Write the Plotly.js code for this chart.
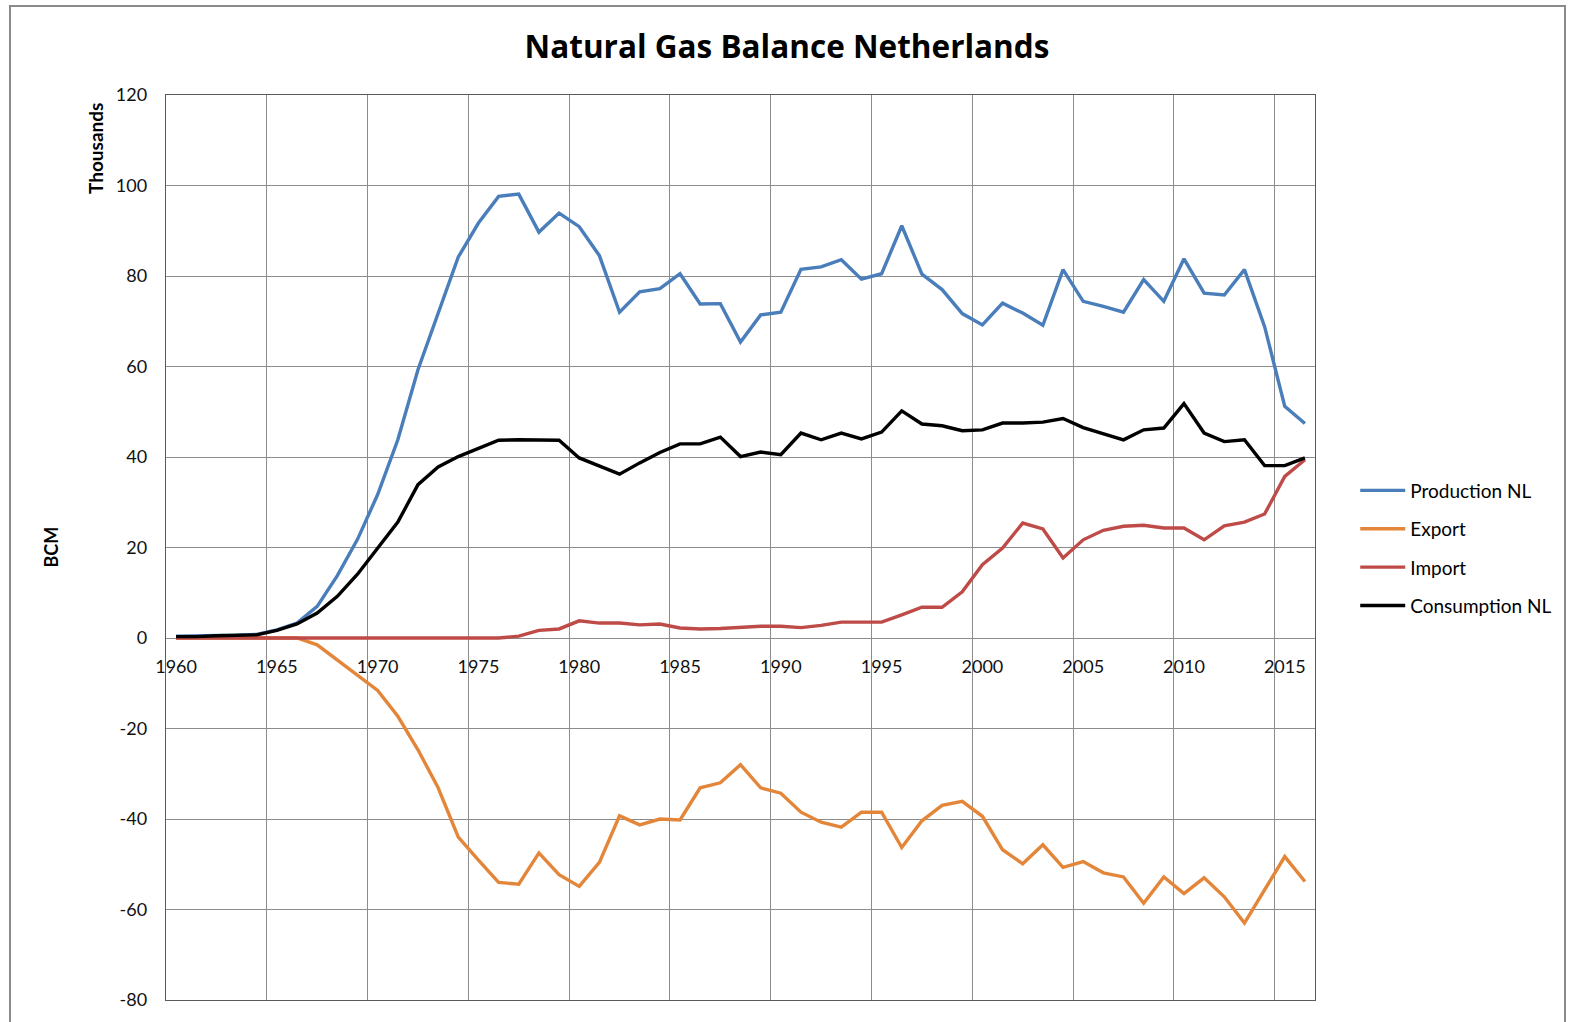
<!DOCTYPE html>
<html>
<head>
<meta charset="utf-8">
<script src="https://cdn.plot.ly/plotly-3.0.1.min.js"></script>
<style>
  html, body { margin: 0; padding: 0; background: #fff; overflow: hidden; }
  #frame { position: absolute; left: 9px; top: 5px; width: 1557px; height: 1040px; border: 2px solid #8a8a8a; box-sizing: border-box; pointer-events: none; z-index: 5; }
  #chart { position: absolute; left: 0; top: 0; width: 1573px; height: 1022px; }
</style>
</head>
<body>
<div id="chart"></div>
<div id="frame"></div>
<script>
const years = [];
for (let y = 1960; y <= 2016; y++) years.push(y);

const production = [0.4, 0.45, 0.55, 0.6, 0.8, 1.8, 3.3, 7.0, 13.8, 21.8,
  31.7, 43.8, 59.3, 71.8, 84.2, 91.7, 97.6, 98.1, 89.7, 93.9,
  90.9, 84.5, 72.0, 76.5, 77.2, 80.5, 73.8, 73.9, 65.4, 71.4,
  72.0, 81.5, 82.0, 83.6, 79.3, 80.5, 91.1, 80.4, 77.0, 71.7,
  69.2, 74.0, 71.8, 69.1, 81.4, 74.4, 73.3, 72.0, 79.2, 74.4,
  83.8, 76.2, 75.8, 81.4, 68.8, 51.2, 47.4];

const exportNL = [0, 0, 0, 0, 0, 0, 0, -1.5, -4.8, -8.1,
  -11.6, -17.3, -24.7, -33.1, -44.0, -49.1, -54.0, -54.4, -47.5, -52.3,
  -54.9, -49.6, -39.3, -41.3, -40.0, -40.2, -33.1, -32.0, -28.0, -33.1,
  -34.3, -38.5, -40.7, -41.8, -38.5, -38.5, -46.3, -40.4, -37.0, -36.1,
  -39.4, -46.8, -49.9, -45.7, -50.7, -49.4, -51.9, -52.8, -58.6, -52.8,
  -56.5, -53.0, -57.2, -63.0, -55.5, -48.3, -53.8];

const importNL = [0, 0, 0, 0, 0, 0, 0, 0, 0, 0,
  0, 0, 0, 0, 0, 0, 0, 0.4, 1.7, 2.0,
  3.8, 3.3, 3.3, 2.9, 3.1, 2.2, 2.0, 2.1, 2.3, 2.6,
  2.6, 2.3, 2.8, 3.5, 3.5, 3.5, 5.1, 6.8, 6.8, 10.2,
  16.2, 19.9, 25.4, 24.1, 17.7, 21.7, 23.8, 24.7, 24.9, 24.3,
  24.3, 21.7, 24.8, 25.6, 27.4, 35.7, 39.4];

const consumption = [0.3, 0.3, 0.5, 0.55, 0.7, 1.7, 3.1, 5.5, 9.2, 14.1,
  19.9, 25.6, 33.9, 37.8, 40.1, 42.0, 43.7, 43.8, 43.8, 43.7,
  39.8, 38.1, 36.2, 38.7, 41.0, 42.9, 42.9, 44.4, 40.1, 41.1,
  40.5, 45.3, 43.8, 45.3, 44.0, 45.5, 50.2, 47.3, 46.9, 45.8,
  46.0, 47.5, 47.5, 47.7, 48.5, 46.5, 45.1, 43.8, 46.0, 46.4,
  51.8, 45.3, 43.4, 43.8, 38.1, 38.1, 39.8];

const seriesNames = ["Production NL", "Export", "Import", "Consumption NL"];
const seriesColors = ["#4A7EBB", "#E3863A", "#BE4B48", "#000000"];
const seriesData = [production, exportNL, importNL, consumption];

const xLabelVals = [1960, 1965, 1970, 1975, 1980, 1985, 1990, 1995, 2000, 2005, 2010, 2015];
const xGridVals = xLabelVals.map(v => v - 0.5);
const yTickVals = [-80, -60, -40, -20, 0, 20, 40, 60, 80, 100, 120];

const FONT = "Lato, 'Open Sans', sans-serif";

const traces = seriesNames.map((name, i) => ({
  type: "scatter",
  mode: "lines",
  name: name,
  x: years,
  y: seriesData[i],
  legendgroup: "g" + i,
  line: { color: seriesColors[i], width: 3.4 },
  hoverinfo: "x+y+name"
}));

const layout = {
  width: 1573,
  height: 1022,
  margin: { l: 166, r: 258, t: 95, b: 22 },
  paper_bgcolor: "#ffffff",
  plot_bgcolor: "#ffffff",
  font: { family: FONT, size: 18, color: "#000" },
  title: {
    text: "<b>Natural Gas Balance Netherlands</b>",
    font: { family: "'Open Sans', Lato, sans-serif", size: 31.5, color: "#000" },
    x: 787 / 1573, xref: "container", xanchor: "center",
    y: 1 - 47 / 1022, yref: "container", yanchor: "middle"
  },
  xaxis: {
    range: [1959.5, 2016.5],
    tickmode: "array",
    tickvals: xGridVals,
    showticklabels: false,
    ticks: "",
    showgrid: true,
    gridcolor: "#8c8c8c",
    gridwidth: 1,
    zeroline: false,
    showline: true,
    mirror: true,
    linecolor: "#5a5a5a",
    linewidth: 1.3,
    fixedrange: true
  },
  xaxis2: {
    overlaying: "x",
    anchor: "free",
    position: 0.4,
    range: [1959.5, 2016.5],
    tickmode: "array",
    tickvals: xLabelVals,
    ticktext: xLabelVals.map(String),
    showgrid: false,
    zeroline: false,
    showline: false,
    ticks: "",
    ticklabelstandoff: 16,
    tickfont: { family: FONT, size: 18, color: "#111" },
    fixedrange: true
  },
  yaxis: {
    range: [-80, 120],
    tickmode: "array",
    tickvals: yTickVals,
    ticktext: yTickVals.map(String),
    showgrid: true,
    gridcolor: "#8c8c8c",
    gridwidth: 1,
    zeroline: true,
    zerolinecolor: "#8c8c8c",
    zerolinewidth: 1,
    showline: true,
    mirror: true,
    linecolor: "#5a5a5a",
    linewidth: 1.3,
    ticks: "",
    ticklabelstandoff: 14,
    tickfont: { family: FONT, size: 18, color: "#111" },
    fixedrange: true
  },
  legend: {
    x: 1.035, xanchor: "left",
    y: 0.584, yanchor: "top",
    font: { family: FONT, size: 19, color: "#000" },
    tracegroupgap: 10.7,
    itemwidth: 45,
    bgcolor: "rgba(0,0,0,0)"
  },
  annotations: [
    {
      text: "<b>Thousands</b>", textangle: -90,
      xref: "paper", yref: "paper",
      x: (95 - 166) / 1149, y: (1000 - 149) / 905,
      xanchor: "center", yanchor: "middle", showarrow: false,
      font: { family: FONT, size: 19, color: "#000" }
    },
    {
      text: "<b>BCM</b>", textangle: -90,
      xref: "paper", yref: "paper",
      x: (50 - 166) / 1149, y: 0.5,
      xanchor: "center", yanchor: "middle", showarrow: false,
      font: { family: FONT, size: 18, color: "#000" }
    }
  ],
  showlegend: true
};

// invisible helper trace so that the label axis (xaxis2) is rendered
traces.push({
  type: "scatter", mode: "lines", x: [1960], y: [0],
  xaxis: "x2", yaxis: "y", showlegend: false, hoverinfo: "skip",
  line: { color: "rgba(0,0,0,0)" }
});

Plotly.newPlot("chart", traces, layout, { displayModeBar: false, staticPlot: true });
</script>
</body>
</html>
